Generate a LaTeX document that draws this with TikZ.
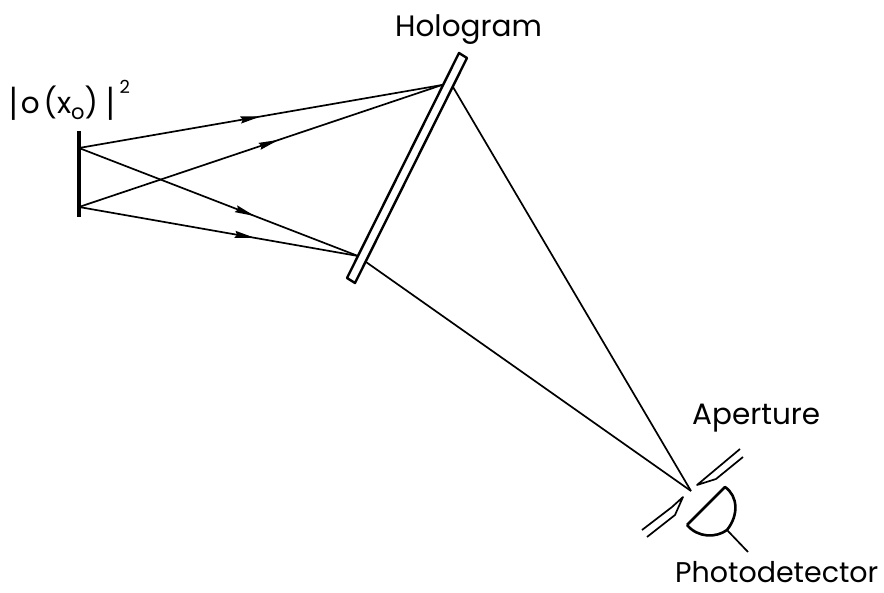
\documentclass[tikz,border=0pt]{standalone}
\usepackage{fontspec}
\setmainfont{Poppins}
\usetikzlibrary{arrows.meta,decorations.markings}
\tikzset{
  ray/.style={line width=1.7pt},
  arrowed/.style={ray, postaction={decorate}, decoration={markings,
      mark=at position #1 with {\arrow{Stealth[length=20pt,width=7pt,inset=2pt]}}}},
  plate/.style={line width=2.4pt, line join=round},
  label/.style={anchor=base west, inner sep=0pt, font=\fontsize{29.5}{29.5}\selectfont}
}
\begin{document}
\begin{tikzpicture}[x=1pt,y=-1pt]
    \useasboundingbox (0,0) rectangle (884,593);
    \coordinate (objtop) at (79,131); \coordinate (objbot) at (79,217);
    \coordinate (srcA) at (79,148); \coordinate (srcB) at (79,207);
    \coordinate (holoA) at (442,85); \coordinate (holoB) at (358,256);
    \coordinate (exitA) at (453,87); \coordinate (exitB) at (366,262);
    \coordinate (focus) at (691,491);
    % object plane
    \draw [line width=3.6pt] (objtop) -- (objbot);
    % rays to the hologram
    \draw [arrowed=.50] (srcA) -- (holoA);
    \draw [arrowed=.55] (srcB) -- (holoA);
    \draw [arrowed=.63] (srcA) -- (holoB);
    \draw [arrowed=.63] (srcB) -- (holoB);
    % rays to the aperture
    \draw [ray] (exitA) -- (focus);
    \draw [ray] (exitB) -- (focus);
    % hologram
    \draw [plate] (459,53) -- (467,58) -- (355,283) -- (347,278) -- cycle;
    % aperture
    \draw [ray, line join=round] (740,449) -- (697,485) -- (716,479) -- (743,457);
    \draw [ray, line join=round] (642,530) -- (672,507) -- (683,497) -- (675,515) -- (647,537);
    % photodetector
    \draw [line width=2.6pt, line join=round] (687,525) -- (725,487)
    .. controls (738,496) and (739,515) .. (727,530)
    .. controls (716,538) and (698,538) .. (687,525);
    \coordinate (stubA) at (727,530); \coordinate (stubB) at (748,552);
    \draw [ray] (stubA) -- (stubB);
    % labels
    \node [label] (hologram) at (395,37) {Hologram};
    \node [label] (aperture) at (692,425) {Aperture};
    \node [label, font=\fontsize{28.5}{28.5}\selectfont] (photodetector) at (675,582) {Photodetector};
    \node [label] (intensity) at (9,114) {\raisebox{-3pt}{\scalebox{1}[1.25]{|}}\hspace{3pt}o\hspace{4pt}(x\raisebox{-6pt}{\fontsize{21}{21}\selectfont o})\hspace{8pt}\raisebox{-3pt}{\scalebox{1}[1.25]{|}}\hspace{5pt}\raisebox{20pt}{\fontsize{18}{18}\selectfont 2}};
\end{tikzpicture}
\end{document}
